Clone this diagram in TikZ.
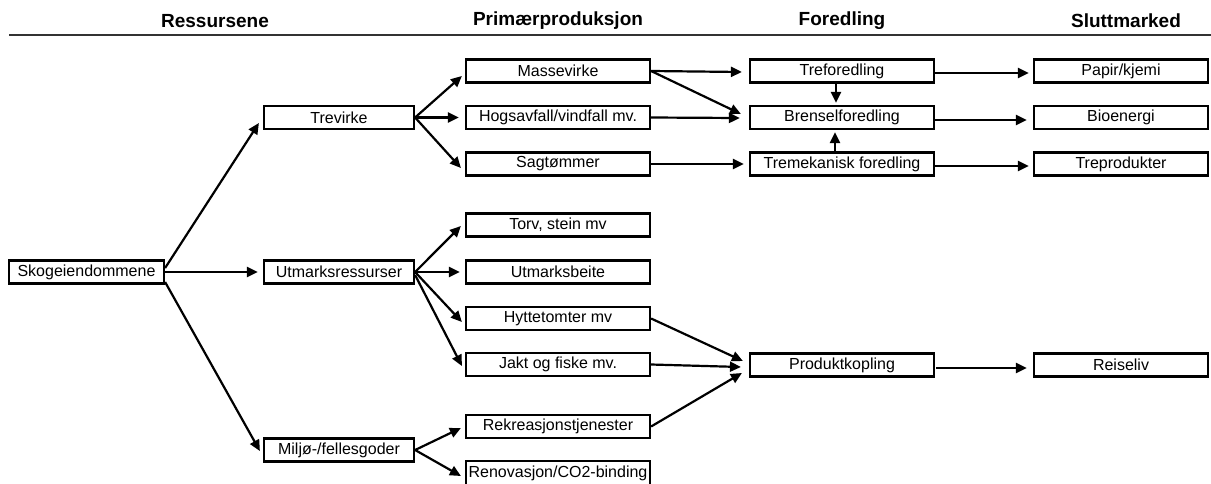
\documentclass[tikz,border=0pt]{standalone}
\usepackage{fontspec}
\setmainfont{Liberation Sans}
\usetikzlibrary{arrows.meta,calc}
\begin{document}
\begin{tikzpicture}[x=1pt,y=-1pt,
  box/.style={draw,line width=2.2pt,minimum height=23pt,inner sep=0pt,font=\fontsize{16}{18}\selectfont},
  wa/.style={box,minimum width=150pt},
  wb/.style={box,minimum width=184pt},
  wc/.style={box,minimum width=174pt},
  hd/.style={font=\fontsize{19}{22}\selectfont\bfseries},
  arr/.style={line width=2.2pt,-{Triangle[length=11pt,width=10pt]}}]
\useasboundingbox (0,0) rectangle (1211,483);
% headers
\node[hd] (h1) at (215,21) {Ressursene};
\node[hd] (h2) at (558,21) {Primærproduksjon};
\node[hd] (h3) at (842,21) {Foredling};
\node[hd] (h4) at (1126,21) {Sluttmarked};
\coordinate (hl) at (9,35);
\coordinate (hr) at (1211,35);
\draw[line width=1.6pt,black!80] (hl) -- (hr);
% column 1
\node[box,minimum width=155pt] (skog) at (86.5,272) {Skogeiendommene};
% column 2
\node[wa] (trevirke) at (339,117.5) {Trevirke};
\node[wa] (utmark) at (339,272) {Utmarksressurser};
\node[wa] (miljo) at (339,450) {Miljø-/fellesgoder};
% column 3
\node[wb] (masse) at (558,71) {Massevirke};
\node[wb] (hogs) at (558,117.5) {Hogsavfall/vindfall mv.};
\node[wb] (sag) at (558,164) {Sagtømmer};
\node[wb] (torv) at (558,225) {Torv, stein mv};
\node[wb] (beite) at (558,272) {Utmarksbeite};
\node[wb] (hytte) at (558,318.5) {Hyttetomter mv};
\node[wb] (jakt) at (558,364.5) {Jakt og fiske mv.};
\node[wb] (rekr) at (558,426.5) {Rekreasjonstjenester};
\node[wb,minimum height=28pt,text depth=6pt] (renov) at (558,475) {Renovasjon/CO2-binding};
% column 4
\node[wb] (trefor) at (842,71) {Treforedling};
\node[wb] (brensel) at (842,117.5) {Brenselforedling};
\node[wb] (tremek) at (842,164) {Tremekanisk foredling};
\node[wb] (prod) at (842,365) {Produktkopling};
% column 5
\node[wc] (papir) at (1121,71) {Papir/kjemi};
\node[wc] (bio) at (1121,117.5) {Bioenergi};
\node[wc] (trepr) at (1121,164) {Treprodukter};
\node[wc] (reise) at (1121,365) {Reiseliv};
% arrows from Skogeiendommene
\draw[arr] ($(skog.east)+(0,-4)$) -- ($(trevirke.west)+(-4,5.5)$);
\draw[arr] (skog.east) -- ($(utmark.west)+(-5,0)$);
\draw[arr] ($(skog.east)+(0,10)$) -- ($(miljo.west)+(-3,1)$);
% Trevirke fan
\draw[arr] (trevirke.east) -- ($(masse.west)+(-3,5)$);
\draw[arr] (trevirke.east) -- ($(hogs.west)+(-6,0)$);
\draw[arr] (trevirke.east) -- ($(sag.west)+(-4,4)$);
% Utmark fan
\draw[arr] (utmark.east) -- ($(torv.west)+(-4,1)$);
\draw[arr] (utmark.east) -- ($(beite.west)+(-5,0)$);
\draw[arr] (utmark.east) -- ($(hytte.west)+(-3,3.5)$);
\draw[arr] ($(utmark.east)+(0,3)$) -- ($(jakt.west)+(-3,1.5)$);
% Miljo fan
\draw[arr] (miljo.east) -- ($(rekr.west)+(-4,1.5)$);
\draw[arr] (miljo.east) -- ($(renov.west)+(-4,1)$);
% to foredling
\draw[arr] (masse.east) -- ($(trefor.west)+(-7,1)$);
\draw[arr] (masse.east) -- ($(brensel.west)+(-8,-3.5)$);
\draw[arr] (hogs.east) -- ($(brensel.west)+(-9,0.5)$);
\draw[arr] (sag.east) -- ($(tremek.west)+(-5,0)$);
\draw[arr] ($(trefor.south)+(-6,0)$) -- ($(brensel.north)+(-6,-2)$);
\draw[arr] ($(tremek.north)+(-7,0)$) -- ($(brensel.south)+(-7,2)$);
% to sluttmarked
\draw[arr] ($(trefor.east)+(0,2)$) -- ($(papir.west)+(-4,2)$);
\draw[arr] ($(brensel.east)+(0,2.5)$) -- ($(bio.west)+(-6,2.5)$);
\draw[arr] ($(tremek.east)+(-1,2)$) -- ($(trepr.west)+(-4,2)$);
\draw[arr] ($(prod.east)+(1,3)$) -- ($(reise.west)+(-6,3)$);
% produktkopling
\draw[arr] (hytte.east) -- ($(prod.west)+(-6,-4)$);
\draw[arr] (jakt.east) -- ($(prod.west)+(-8,2)$);
\draw[arr] (rekr.east) -- ($(prod.west)+(-7,8)$);
\end{tikzpicture}
\end{document}
